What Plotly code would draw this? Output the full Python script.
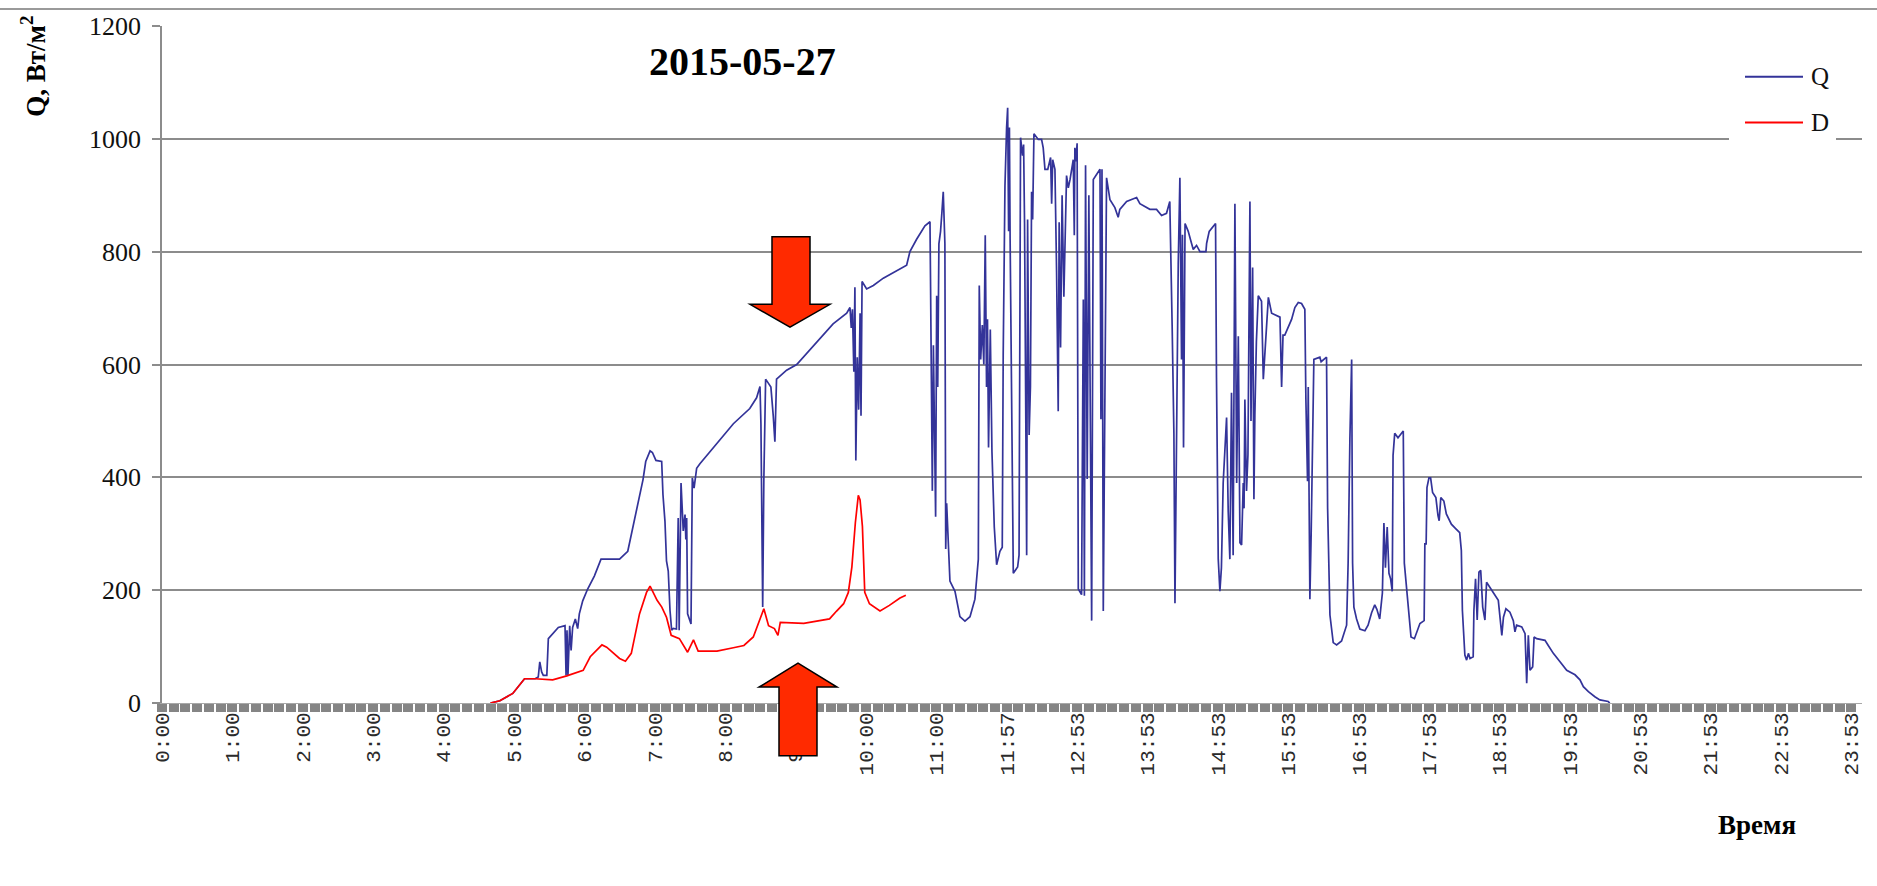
import plotly.graph_objects as go

# ---- data: irradiance records of 2015-05-27 (record number -> W/m2) ----
tick_pos = list(range(0, 1441, 60))
tick_text = ["0:00", "1:00", "2:00", "3:00", "4:00", "5:00", "6:00", "7:00",
             "8:00", "9:00", "10:00", "11:00", "11:57", "12:53", "13:53",
             "14:53", "15:53", "16:53", "17:53", "18:53", "19:53", "20:53",
             "21:53", "22:53", "23:53"]

q_t = [280, 288, 299, 309, 318, 320.7, 322, 323.6, 325, 328, 329.3, 332, 337.8,
       343.5, 344.4, 345.2, 346, 347.5, 348.7, 350, 352.3, 354.3, 355.7, 358.6,
       362.8, 368.5, 374.2, 378.3, 390, 397, 401.3, 405.3, 410, 412.3, 416, 418,
       421, 425.9, 427, 428.7, 430, 431.5, 433, 434.4, 435.8, 438.5, 440, 440.8,
       442.4, 444.3, 445.8, 446.5, 447.2, 448, 450.9, 452, 453.5, 455.7,
       458.5, 487, 501, 506.8, 509.7, 510.5, 511.5, 512, 513, 514.5, 516.8, 519,
       521, 522.4, 523.8, 532.4, 541, 552.3, 560.8, 572, 583.6, 586.4, 587.5,
       588.5, 589.7, 590.6, 591.4, 592.6, 593.8, 595, 595.8, 596.7, 600.6, 606.3,
       614.8, 623.3, 629,
       634.7, 637.5, 643.2, 650.3, 654.6, 655.1, 656.6, 657.5, 658.3, 659.4,
       660.3, 661.2, 662.2, 663.6, 664.8, 665.9, 667.3, 668, 668.8, 670.2, 671.6,
       675.9, 680.1, 684.4, 688.7, 692.9, 695.8, 696.6, 697.8, 699.2, 700.5,
       701.7, 702.8, 703.6, 704.5, 706, 707.4, 709.4, 711.4, 714.2, 716.2, 717,
       718.5, 719.9, 720.8, 721.6, 722.3, 722.9, 724.3, 725.6, 729.3, 730.5,
       731.8, 733.5, 734.4, 735.2, 737, 737.8, 739.1, 740.2, 741.2, 742.1, 743.2,
       746.9, 749.7, 751.1, 752.6, 755, 757.4, 758.3, 759.2, 761.1, 762.5, 763.9,
       764.7, 765.9, 767.2, 768.7,
       771, 772.5, 774, 775.4, 776.7, 777.6, 778.1, 779, 780, 781, 783.8, 785.3,
       786.2, 787.2, 788.6, 790, 791.4, 792.4, 793.8, 796.6, 799.5, 800.3, 801.2,
       802.3, 803.7, 805.1, 808, 812.2, 815, 816.4, 822.2, 830.7, 833.5, 842,
       847.7, 852, 856.2, 859, 861, 862.5, 863.4, 864.8, 866.2, 867.6, 869,
       869.8, 870.7, 872, 874.7, 877.5, 879, 881.8, 884.7, 889.8, 890.4, 892.6,
       896, 898, 898.8, 900.3, 901.7, 903, 904.5, 906, 907.4, 908.8, 910.2,
       911.6, 913, 914.5, 916, 917.4, 918.8, 920.2, 921.6, 922.3, 923, 924.4,
       925.6, 927.3, 928.2, 929.6, 930.7, 931.5, 932.8, 934.4,
       937.2, 938.7, 940, 941.5, 943, 945.8, 948.6, 952.9, 954.3, 955.5, 957,
       959.9, 962.8, 965.6, 968.5, 971.3, 974.1, 975, 976.4, 977, 978.4, 979.5,
       980.5, 981.8, 986.9, 988, 992.6, 993.5, 995.5, 998.3, 1001.2, 1005.4,
       1009.7, 1011, 1012.5, 1014, 1014.8, 1015.9, 1018.2, 1021, 1025.3, 1028,
       1031, 1033.7, 1035.5, 1037.9, 1040.2, 1041.5, 1042.8, 1044.3, 1045.8,
       1047.2, 1048.6, 1049.3, 1050.7, 1053.5, 1056.5, 1058, 1058.9, 1061.8,
       1064.6, 1067.5, 1070.8, 1072.2, 1075.8,
       1076.4, 1077.5, 1078.2, 1079.9, 1081.3, 1083, 1085.8, 1087.6, 1088.6,
       1090, 1092.6, 1094.7, 1099, 1101.8, 1106.1, 1107.5, 1108.4, 1110.5, 1112,
       1113.5, 1114.9, 1117.6, 1118.2, 1119.6, 1121, 1122.5, 1124, 1125.7,
       1127.6, 1129, 1131.8, 1134.7, 1139, 1142, 1143.4, 1145.5, 1148.9, 1151.8,
       1153.2, 1154.6, 1159, 1161.8, 1163.2, 1164.6, 1166, 1168.3, 1169.5,
       1171.7, 1178.8, 1181.6, 1185.9, 1191.6, 1197.3, 1204.4, 1208.6, 1211.5,
       1215.8, 1221.3, 1225.6, 1232.7, 1234]
q_w = [0, 4, 17, 43, 43, 46, 73, 55, 49, 49, 114, 120, 134,
       137, 49, 129, 49, 137, 93, 134, 149, 132, 158, 181,
       202, 225, 255, 255, 255, 269, 311, 346, 396, 428, 447, 444,
       430, 428, 369, 322, 252, 234, 164, 129, 132, 131, 328, 129,
       390, 305, 334, 290, 328, 158, 140, 399, 381, 416,
       424, 495, 522, 541, 561, 495, 300, 170, 398, 574, 567, 560,
       509, 463, 574, 590, 600, 626, 646, 672, 691, 701, 665,
       698, 587, 737, 430, 613, 520, 691, 509, 747, 734, 740,
       753, 763, 769,
       776, 800, 822, 846, 853, 737, 376, 634, 460, 330,
       722, 560, 814, 836, 871, 906, 814, 273, 354, 284, 216,
       198, 153, 145, 153, 184, 255, 740, 609, 670, 600,
       829, 560, 680, 453, 662, 446, 312, 245, 269, 276, 616,
       917, 1020, 1055, 836, 1020, 822, 425, 230, 241, 262,
       1002, 970, 990, 850, 262, 857, 475, 560, 906, 857, 1009,
       999, 999, 984, 946, 946, 967, 885, 963, 946, 765, 517,
       852, 630, 900, 720,
       935, 913, 928, 946, 963, 829, 984, 960, 992, 202, 192, 715,
       190, 953, 397, 900, 418, 146, 928, 938, 946, 503, 946,
       163, 609, 931, 892, 878, 861, 875, 889, 896, 885, 875,
       875, 864, 868, 889, 669, 478, 177, 478, 779, 931, 609,
       830, 453, 850, 836, 815, 804, 811, 800, 800, 815, 836,
       846, 850, 577, 255, 198, 240, 390, 460, 506, 340, 255,
       550, 262, 885, 390, 650, 284, 280, 390, 345, 538, 376,
       440, 889, 500, 772, 361, 510, 640, 722,
       712, 574, 620, 680, 719, 691, 688, 684, 560, 652, 652,
       666, 680, 701, 710, 708, 698, 538, 393, 560, 184, 300,
       450, 609, 613, 605, 613, 347, 156, 107, 103, 110,
       138, 248, 468, 609, 248, 170, 149, 131, 128, 138,
       160, 174, 166, 149, 195, 319, 240, 312, 230,
       220, 198, 439, 478, 470, 478, 482, 248, 181,
       117, 114, 135, 141, 146,
       282, 282, 382, 399, 399, 373, 364, 332, 323,
       364, 358, 335, 317, 311, 302, 270, 164, 85, 76,
       88, 79, 82, 164, 220, 147, 232, 235, 170,
       147, 214, 205, 194, 182, 120, 152, 167, 161, 146,
       126, 138, 135, 123, 35, 120, 58, 64, 117,
       114, 111, 102, 88, 73, 58, 50, 41, 29,
       20, 11, 5.5, 2.6, 0]

d_t = [280, 288, 299, 309, 318, 333, 345, 359, 365, 375, 379, 390, 395, 400,
       407, 413, 416, 422, 426, 430, 434, 441, 448, 453, 457, 473, 487, 496,
       504, 510, 513, 517, 522, 525, 527, 547, 558, 569, 575, 581, 585, 588,
       591, 593.5, 595, 597, 599, 603, 612, 620, 629, 634]
d_w = [0, 4, 17, 43, 43, 41, 48, 58, 82, 103, 99, 79, 74, 88,
       158, 196, 207, 182, 170, 152, 120, 114, 90, 112, 92, 92, 98, 102,
       117, 152, 167, 137, 132, 120, 143, 141, 145, 149, 163, 176, 196, 241,
       320, 368, 360, 313, 196, 176, 163, 173, 186, 191]

series = [("Q", q_t, q_w, "#333399"), ("D", d_t, d_w, "#FF0000")]

# ---- page geometry ----
W, H = 1877, 886
ML, MR, MT, MB = 162, 15, 22, 183
PW, PH = W - ML - MR, H - MT - MB


def fx(px):
    return (px - ML) / PW


def fy(py):
    return (H - MB - py) / PH


fig = go.Figure()
for name, t, w, color in series:
    fig.add_trace(go.Scatter(x=t, y=w, mode="lines", name=name,
                             line=dict(color=color, width=1.7),
                             showlegend=False))

GRID = "#8c8c8c"
fig.update_layout(
    width=W, height=H,
    margin=dict(l=ML, r=MR, t=MT, b=MB, pad=0),
    paper_bgcolor="white", plot_bgcolor="white",
    xaxis=dict(range=[0, 1449], tickmode="array", tickvals=tick_pos,
               ticktext=tick_text, tickangle=-90, ticks="",
               tickfont=dict(family="Liberation Mono", size=21, color="#2a2a2a"),
               showgrid=False, zeroline=False, showline=True,
               linecolor="#a8a8a8", linewidth=1,
               minor=dict(tickmode="array", tickvals=list(range(0, 1441, 10)),
                          ticks="outside", ticklen=8, tickwidth=10,
                          tickcolor="#858585", showgrid=False)),
    yaxis=dict(range=[0, 1200], tickvals=[0, 200, 400, 600, 800, 1000, 1200],
               ticks="outside", ticklen=8, tickcolor=GRID, tickwidth=1.5,
               ticklabelstandoff=6,
               tickfont=dict(family="Liberation Serif", size=26, color="#111"),
               showgrid=True, gridcolor=GRID, gridwidth=1.5,
               zeroline=False, showline=True, linecolor=GRID, linewidth=1.5),
)

shapes = []
# frame line along the top of the page
shapes.append(dict(type="line", xref="paper", yref="paper",
                   x0=fx(0), x1=fx(W), y0=fy(5), y1=fy(5),
                   line=dict(color="#9a9a9a", width=2)))


def poly(points):
    return "M" + " L".join(f"{fx(x):.5f},{fy(y):.5f}" for x, y in points) + " Z"


# arrows marking the segment of interest
down_arrow = [(772, 234), (810, 234), (810, 302), (830, 302), (790, 325),
              (750, 302), (772, 302)]
up_arrow = [(779, 756), (817, 756), (817, 687), (837, 687), (798, 663),
            (759, 687), (779, 687)]
for pts in (down_arrow, up_arrow):
    shapes.append(dict(type="path", xref="paper", yref="paper", path=poly(pts),
                       fillcolor="#FF2A00", line=dict(color="black", width=1.5),
                       layer="above"))

# legend box
shapes.append(dict(type="rect", xref="paper", yref="paper",
                   x0=fx(1729), x1=fx(1836), y0=fy(50), y1=fy(142),
                   fillcolor="white", line=dict(width=0), layer="above"))
annotations = []
for k, (name, _, _, color) in enumerate(series):
    yy = 73 + 46 * k
    shapes.append(dict(type="line", xref="paper", yref="paper",
                       x0=fx(1745), x1=fx(1803), y0=fy(yy), y1=fy(yy),
                       line=dict(color=color, width=2), layer="above"))
    annotations.append(dict(xref="paper", yref="paper", x=fx(1809), y=fy(yy),
                            text=name, showarrow=False, xanchor="left",
                            yanchor="middle",
                            font=dict(family="Liberation Serif", size=25,
                                      color="#111")))

annotations += [
    dict(xref="paper", yref="paper", x=fx(742), y=fy(58), text="<b>2015-05-27</b>",
         showarrow=False, xanchor="center", yanchor="middle",
         font=dict(family="Liberation Serif", size=40, color="black")),
    dict(xref="paper", yref="paper", x=fx(33), y=fy(63),
         text="<b>Q, Вт/м<sup>2</sup></b>", textangle=-90, showarrow=False,
         xanchor="center", yanchor="middle",
         font=dict(family="Liberation Serif", size=27, color="black")),
    dict(xref="paper", yref="paper", x=fx(1757), y=fy(826), text="<b>Время</b>",
         showarrow=False, xanchor="center", yanchor="middle",
         font=dict(family="Liberation Serif", size=27, color="black")),
]

fig.update_layout(shapes=shapes, annotations=annotations)
fig.write_html("out.html")
